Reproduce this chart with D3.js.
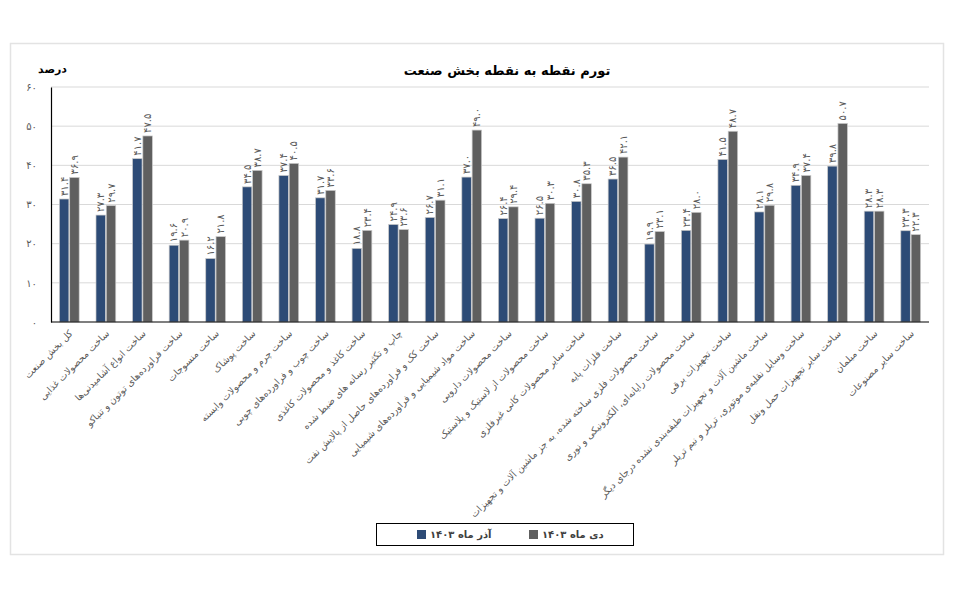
<html><head>
  <meta charset="utf-8">
  <script src="https://d3js.org/d3.v7.min.js"></script>
  <style>
    body { margin:0; background:white; }
  </style>
</head>
<body>
  <svg id="chart" width=963 height=593></svg>
  <script>
    // categories, left to right
    const categories = [
      "کل بخش صنعت",
      "ساخت محصولات غذایی",
      "ساخت انواع آشامیدنی‌ها",
      "ساخت فراورده‌های توتون و تنباکو",
      "ساخت منسوجات",
      "ساخت پوشاک",
      "ساخت چرم و محصولات وابسته",
      "ساخت چوب و فراورده‌های چوبی",
      "ساخت کاغذ و محصولات کاغذی",
      "چاپ و تکثیر رسانه های ضبط شده",
      "ساخت کک و فراورده‌های حاصل از پالایش نفت",
      "ساخت مواد شیمیایی و فراورده‌های شیمیایی",
      "ساخت محصولات دارویی",
      "ساخت محصولات از لاستیک و پلاستیک",
      "ساخت سایر محصولات کانی غیرفلزی",
      "ساخت فلزات پایه",
      "ساخت محصولات فلزی ساخته شده، به جز ماشین آلات و تجهیزات",
      "ساخت محصولات رایانه‌ای، الکترونیکی و نوری",
      "ساخت تجهیزات برقی",
      "ساخت ماشین آلات و تجهیزات طبقه‌بندی نشده درجای دیگر",
      "ساخت وسایل نقلیه‌ی موتوری، تریلر و نیم تریلر",
      "ساخت سایر تجهیزات حمل ونقل",
      "ساخت مبلمان",
      "ساخت سایر مصنوعات"
    ];

    const azarValues = [31.4, 27.3, 41.7, 19.6, 16.2, 34.5, 37.4, 31.7, 18.8, 24.9, 26.7, 37.0,
                        26.4, 26.5, 30.8, 36.5, 19.9, 23.4, 41.5, 28.1, 34.9, 39.8, 28.3, 23.3];
    const deyValues  = [36.9, 29.7, 47.5, 20.9, 21.8, 38.7, 40.5, 33.6, 23.4, 23.6, 31.1, 49.0,
                        29.4, 30.3, 35.3, 42.1, 23.1, 28.0, 48.7, 29.8, 37.4, 50.7, 28.3, 22.3];

    const yTicks = [0, 10, 20, 30, 40, 50, 60];
    const seriesNames = ["آذر ماه ۱۴۰۳", "دی ماه ۱۴۰۳"];
    const seriesColors = ["#2d4b76", "#5f5f5f"];

    const chartTitle = "تورم نقطه به نقطه بخش صنعت";
    const unitLabel = "درصد";

    const toFa = s => String(s).replace(/\d/g, d => "۰۱۲۳۴۵۶۷۸۹"[d]);
    const fmt = d3.format(".1f");
    const font = "'DejaVu Sans', sans-serif";

    let svg = d3.select("svg#chart");

    // outer frame
    svg.append("rect")
       .attr("x", 10.5).attr("y", 43.5)
       .attr("width", 933).attr("height", 511)
       .style("fill", "white")
       .style("stroke", "#e3e3e3")
       .style("stroke-width", 1.5);

    let x0 = d3.scaleBand()
               .domain(categories)
               .range([51, 929])
               .paddingInner(0.46)
               .paddingOuter(0.23);

    let x1 = d3.scaleBand()
               .domain([0, 1])
               .range([0, x0.bandwidth()])
               .paddingInner(0.08);

    let y = d3.scaleLinear()
              .domain([0, 60])
              .range([322, 87]);

    // gridlines
    yTicks.forEach(t => {
      if (t === 0) return;
      svg.append("line")
         .attr("x1", 51).attr("x2", 929)
         .attr("y1", y(t)).attr("y2", y(t))
         .style("stroke", "#d9d9d9")
         .style("stroke-width", 1);
    });

    // y axis
    let yAxis = d3.axisLeft(y)
                  .tickValues(yTicks)
                  .tickSize(0)
                  .tickPadding(14)
                  .tickFormat(d => toFa(d));

    let gy = svg.append("g")
                .attr("transform", "translate(51,0)")
                .call(yAxis);
    gy.select(".domain").style("stroke", "black").style("stroke-width", 1.2);
    gy.selectAll("text")
      .style("font-family", font)
      .style("font-size", "10px")
      .style("fill", "#595959");

    // bars
    const series = [azarValues, deyValues];
    series.forEach((vals, s) => {
      categories.forEach((c, i) => {
        let bx = x0(c) + x1(s);
        svg.append("rect")
           .attr("x", bx)
           .attr("y", y(vals[i]))
           .attr("width", x1.bandwidth())
           .attr("height", y(0) - y(vals[i]))
           .style("fill", seriesColors[s])
           .style("stroke", "#c9c9c9")
           .style("stroke-width", 0.7);

        let cx = bx + x1.bandwidth() / 2 + 3.5;
        let cy = y(vals[i]) - 3;
        svg.append("text")
           .text(toFa(fmt(vals[i])))
           .attr("transform", "translate(" + cx + "," + cy + ") rotate(-90)")
           .style("font-family", font)
           .style("font-size", "10px")
           .style("text-anchor", "start")
           .style("fill", "#595959");
      });
    });

    // x axis line
    svg.append("line")
       .attr("x1", 51).attr("x2", 929)
       .attr("y1", y(0)).attr("y2", y(0))
       .style("stroke", "black")
       .style("stroke-width", 1.2);

    // category labels
    categories.forEach(c => {
      let lx = x0(c) + x0.bandwidth() / 2 + 4;
      let ly = 334;
      svg.append("text")
         .text(c)
         .attr("transform", "translate(" + lx + "," + ly + ") rotate(-45)")
         .style("font-family", font)
         .style("font-size", "9.5px")
         .style("text-anchor", "end")
         .style("fill", "#595959");
    });

    // title and unit
    svg.append("text")
       .text(chartTitle)
       .attr("x", 507).attr("y", 75)
       .style("font-family", font)
       .style("font-weight", "bold")
       .style("font-size", "13px")
       .style("text-anchor", "middle")
       .style("fill", "black");

    svg.append("text")
       .text(unitLabel)
       .attr("x", 67).attr("y", 73)
       .style("font-family", font)
       .style("font-weight", "bold")
       .style("font-size", "11px")
       .style("text-anchor", "end")
       .style("fill", "black");

    // legend
    svg.append("rect")
       .attr("x", 376.5).attr("y", 523.5)
       .attr("width", 257).attr("height", 22)
       .style("fill", "white")
       .style("stroke", "black")
       .style("stroke-width", 1);

    const legendX = [417, 529];
    seriesNames.forEach((n, s) => {
      svg.append("rect")
         .attr("x", legendX[s]).attr("y", 530)
         .attr("width", 9).attr("height", 9)
         .style("fill", seriesColors[s]);
      svg.append("text")
         .text(n)
         .attr("x", legendX[s] + 13).attr("y", 538)
         .style("font-family", font)
         .style("font-weight", "bold")
         .style("font-size", "10px")
         .style("text-anchor", "start")
         .style("fill", "#404040");
    });
  </script>
</body>
</html>
